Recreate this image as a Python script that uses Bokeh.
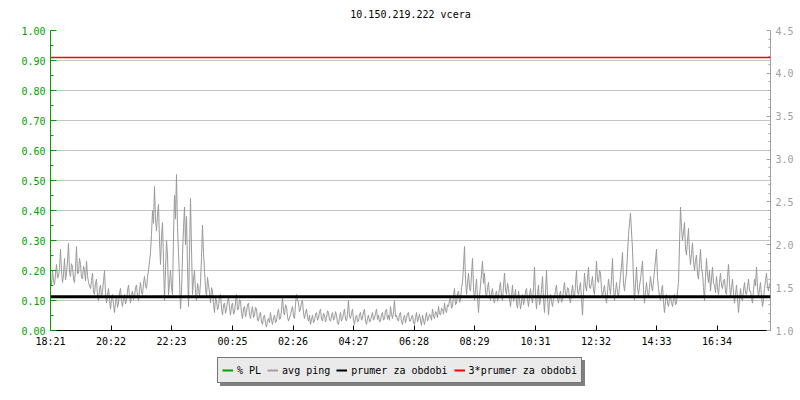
from bokeh.plotting import figure
from bokeh.models import (Range1d, LinearAxis, FixedTicker, Span, Legend, LegendItem, Grid)
from bokeh.layouts import column
from bokeh.embed import file_html
from bokeh.resources import INLINE

title_text = "10.150.219.222 vcera"
tick_labels = ["18:21", "20:22", "22:23", "00:25", "02:26", "04:27",
               "06:28", "08:29", "10:31", "12:32", "14:33", "16:34"]
sample_step_min = 2
period_min = 1440

# avg ping [ms], one value every 2 minutes starting 18:21
avg_ping = [
    1.60, 1.52, 1.70, 1.58, 1.53, 1.66, 1.77, 1.61, 1.63, 1.72, 1.95, 1.70, 1.56, 1.65, 1.84, 1.59, 1.67, 1.80, 2.02, 1.68,
    1.63, 1.78, 1.74, 1.60, 1.56, 1.72, 1.98, 1.66, 1.67, 1.84, 1.77, 1.62, 1.60, 1.75, 1.70, 1.58, 1.81, 1.64, 1.56, 1.52,
    1.49, 1.58, 1.67, 1.45, 1.42, 1.55, 1.60, 1.40, 1.35, 1.48, 1.53, 1.38, 1.46, 1.57, 1.70, 1.44, 1.32, 1.41, 1.49, 1.36,
    1.25, 1.36, 1.42, 1.30, 1.21, 1.33, 1.39, 1.27, 1.32, 1.44, 1.49, 1.34, 1.28, 1.37, 1.42, 1.31, 1.35, 1.46, 1.53, 1.40,
    1.32, 1.41, 1.46, 1.36, 1.39, 1.50, 1.53, 1.40, 1.35, 1.47, 1.56, 1.44, 1.42, 1.55, 1.63, 1.52, 1.49, 1.62, 1.70, 1.80,
    1.91, 2.12, 2.40, 2.25, 2.68, 2.30, 2.16, 2.35, 2.47, 2.05, 1.77, 2.10, 2.26, 1.80, 1.35, 1.70, 2.05, 1.88, 1.42, 1.55,
    1.70, 1.50, 1.42, 2.10, 2.58, 2.30, 2.82, 2.20, 1.91, 1.60, 1.25, 1.45, 1.88, 2.20, 2.44, 2.00, 2.33, 1.75, 1.28, 1.90,
    2.54, 1.95, 1.42, 1.60, 1.70, 1.45, 1.35, 1.55, 1.49, 1.40, 1.56, 1.85, 2.23, 1.90, 1.70, 1.50, 1.39, 1.62, 1.53, 1.44,
    1.32, 1.50, 1.46, 1.30, 1.21, 1.38, 1.35, 1.24, 1.28, 1.40, 1.42, 1.26, 1.18, 1.30, 1.32, 1.20, 1.25, 1.34, 1.39, 1.27,
    1.18, 1.29, 1.32, 1.19, 1.21, 1.33, 1.42, 1.24, 1.25, 1.36, 1.35, 1.20, 1.14, 1.26, 1.28, 1.16, 1.21, 1.30, 1.32, 1.19,
    1.14, 1.23, 1.28, 1.15, 1.18, 1.27, 1.25, 1.12, 1.11, 1.19, 1.21, 1.10, 1.07, 1.16, 1.18, 1.08, 1.04, 1.12, 1.14, 1.09,
    1.21, 1.12, 1.07, 1.15, 1.18, 1.09, 1.11, 1.20, 1.25, 1.13, 1.14, 1.24, 1.39, 1.22, 1.18, 1.30, 1.28, 1.16, 1.11, 1.15,
    1.18, 1.24, 1.28, 1.17, 1.14, 1.30, 1.42, 1.36, 1.32, 1.22, 1.25, 1.33, 1.35, 1.20, 1.14, 1.21, 1.25, 1.15, 1.11, 1.18,
    1.07, 1.13, 1.18, 1.09, 1.11, 1.19, 1.21, 1.12, 1.14, 1.22, 1.25, 1.13, 1.11, 1.20, 1.18, 1.10, 1.14, 1.23, 1.21, 1.12,
    1.11, 1.17, 1.21, 1.12, 1.14, 1.22, 1.18, 1.09, 1.07, 1.15, 1.21, 1.11, 1.14, 1.20, 1.25, 1.13, 1.11, 1.19, 1.35, 1.16,
    1.14, 1.20, 1.25, 1.12, 1.07, 1.15, 1.18, 1.10, 1.11, 1.19, 1.21, 1.12, 1.14, 1.22, 1.25, 1.11, 1.07, 1.14, 1.18, 1.10,
    1.11, 1.17, 1.21, 1.12, 1.14, 1.20, 1.25, 1.13, 1.18, 1.10, 1.11, 1.19, 1.21, 1.12, 1.14, 1.23, 1.25, 1.13, 1.18, 1.12,
    1.28, 1.19, 1.14, 1.22, 1.35, 1.16, 1.18, 1.12, 1.11, 1.19, 1.21, 1.10, 1.07, 1.14, 1.18, 1.09, 1.14, 1.20, 1.21, 1.11,
    1.11, 1.16, 1.18, 1.09, 1.07, 1.15, 1.21, 1.10, 1.14, 1.19, 1.11, 1.06, 1.18, 1.12, 1.07, 1.15, 1.21, 1.11, 1.14, 1.19,
    1.18, 1.12, 1.25, 1.17, 1.14, 1.22, 1.21, 1.15, 1.28, 1.20, 1.18, 1.26, 1.25, 1.19, 1.32, 1.24, 1.21, 1.30, 1.28, 1.35,
    1.39, 1.26, 1.28, 1.40, 1.49, 1.30, 1.32, 1.43, 1.46, 1.33, 1.35, 1.50, 1.56, 1.75, 1.98, 1.60, 1.42, 1.55, 1.67, 1.50,
    1.46, 1.65, 1.84, 1.50, 1.35, 1.48, 1.60, 1.38, 1.21, 1.40, 1.53, 1.66, 1.81, 1.55, 1.67, 1.45, 1.39, 1.50, 1.56, 1.42,
    1.35, 1.44, 1.49, 1.36, 1.32, 1.42, 1.46, 1.34, 1.39, 1.50, 1.56, 1.40, 1.35, 1.52, 1.67, 1.47, 1.42, 1.55, 1.49, 1.38,
    1.28, 1.40, 1.53, 1.34, 1.39, 1.48, 1.32, 1.26, 1.46, 1.36, 1.25, 1.33, 1.42, 1.30, 1.35, 1.45, 1.49, 1.37, 1.28, 1.40,
    1.49, 1.38, 1.32, 1.50, 1.74, 1.40, 1.25, 1.42, 1.53, 1.30, 1.35, 1.48, 1.63, 1.36, 1.21, 1.45, 1.70, 1.40, 1.18, 1.33,
    1.42, 1.34, 1.28, 1.37, 1.39, 1.47, 1.53, 1.36, 1.32, 1.41, 1.46, 1.33, 1.35, 1.48, 1.56, 1.42, 1.39, 1.50, 1.49, 1.37,
    1.32, 1.44, 1.53, 1.38, 1.39, 1.55, 1.70, 1.45, 1.42, 1.50, 1.56, 1.36, 1.18, 1.44, 1.67, 1.52, 1.46, 1.60, 1.74, 1.50,
    1.49, 1.56, 1.63, 1.47, 1.42, 1.60, 1.81, 1.58, 1.56, 1.70, 1.67, 1.48, 1.39, 1.46, 1.53, 1.40, 1.32, 1.45, 1.60, 1.50,
    1.42, 1.60, 1.84, 1.50, 1.35, 1.46, 1.56, 1.44, 1.39, 1.52, 1.63, 1.75, 1.91, 1.55, 1.46, 1.58, 1.67, 1.90, 2.12, 2.25,
    2.37, 2.15, 1.95, 1.60, 1.35, 1.55, 1.74, 1.50, 1.42, 1.52, 1.60, 1.70, 1.81, 1.48, 1.32, 1.45, 1.56, 1.44, 1.39, 1.50,
    1.63, 1.52, 1.46, 1.58, 1.70, 1.82, 1.95, 1.62, 1.49, 1.40, 1.35, 1.46, 1.53, 1.33, 1.21, 1.35, 1.42, 1.32, 1.28, 1.36,
    1.39, 1.33, 1.28, 1.36, 1.42, 1.30, 1.32, 1.45, 1.56, 2.00, 2.44, 2.20, 2.05, 2.15, 2.26, 1.95, 1.88, 2.05, 2.19, 1.90,
    1.77, 1.90, 2.02, 1.80, 1.70, 1.82, 1.88, 1.66, 1.60, 1.78, 1.95, 1.72, 1.67, 1.50, 1.35, 1.62, 1.84, 1.66, 1.56, 1.70,
    1.46, 1.60, 1.74, 1.55, 1.53, 1.44, 1.63, 1.50, 1.42, 1.56, 1.67, 1.52, 1.49, 1.58, 1.60, 1.45, 1.42, 1.62, 1.77, 1.55,
    1.39, 1.50, 1.60, 1.44, 1.32, 1.42, 1.53, 1.38, 1.21, 1.35, 1.49, 1.37, 1.35, 1.47, 1.56, 1.43, 1.42, 1.51, 1.60, 1.46,
    1.46, 1.38, 1.32, 1.47, 1.60, 1.52, 1.74, 1.50, 1.39, 1.48, 1.56, 1.40, 1.28, 1.36, 1.49, 1.58, 1.67, 1.52, 1.46, 1.55,
]
packet_loss = [float("nan")]   # % PL - no data in the period
prumer = 1.395                 # prumer za obdobi [ms]
prumer3 = 4.185                # 3*prumer za obdobi [ms]

pl_ticks = [0.0, 0.1, 0.2, 0.3, 0.4, 0.5, 0.6, 0.7, 0.8, 0.9, 1.0]
pl_minor = [0.05, 0.15, 0.25, 0.35, 0.45, 0.55, 0.65, 0.75, 0.85, 0.95]
ping_ticks = [1.0, 1.5, 2.0, 2.5, 3.0, 3.5, 4.0, 4.5]
ping_minor = [1.1, 1.2, 1.3, 1.4, 1.6, 1.7, 1.8, 1.9, 2.1, 2.2, 2.3, 2.4,
              2.6, 2.7, 2.8, 2.9, 3.1, 3.2, 3.3, 3.4, 3.6, 3.7, 3.8, 3.9,
              4.1, 4.2, 4.3, 4.4]
legend_labels = ["% PL", "avg ping", "prumer za obdobi", "3*prumer za obdobi"]

FONT = "DejaVu Sans Mono"
GREEN = "#00a000"
GRAY = "#a0a0a0"
PINGC = "#999999"
RED = "#ff0000"

def to_min(lbl):
    h, m = lbl.split(":")
    return int(h) * 60 + int(m)

start = to_min(tick_labels[0])
tick_pos = [(to_min(l) - start) % period_min for l in tick_labels]
minutes = [i * sample_step_min for i in range(len(avg_ping))]

p = figure(frame_width=720, frame_height=300, output_backend="svg",
           toolbar_location=None, x_range=Range1d(0, period_min),
           y_range=Range1d(0, 1), min_border_left=50, min_border_top=30,
           min_border_bottom=23, min_border_right=30,
           x_axis_type=None, y_axis_type=None)
p.outline_line_color = None
p.background_fill_color = "white"
p.border_fill_color = "white"
p.extra_y_ranges = {"ping": Range1d(1.0, 4.5)}

p.title.text = title_text
p.title.align = "center"
p.title.vertical_align = "top"
p.title.text_font = FONT
p.title.text_font_size = "10px"
p.title.text_font_style = "normal"
p.title.text_color = "black"
p.title.standoff = 17

xaxis = LinearAxis(ticker=FixedTicker(ticks=tick_pos))
xaxis.major_label_overrides = {tp: lbl for tp, lbl in zip(tick_pos, tick_labels)}
xaxis.axis_line_color = "black"
xaxis.major_tick_line_color = "black"
xaxis.major_tick_in = 5
xaxis.major_tick_out = 0
xaxis.minor_tick_line_color = None
xaxis.major_label_text_font = FONT
xaxis.major_label_text_font_size = "10px"
xaxis.major_label_text_color = "black"
xaxis.major_label_standoff = 5
p.add_layout(xaxis, "below")

yaxis = LinearAxis(ticker=FixedTicker(ticks=pl_ticks, minor_ticks=pl_minor))
yaxis.major_label_overrides = {t: "%.2f" % t for t in pl_ticks}
yaxis.axis_line_color = GREEN
yaxis.major_tick_line_color = GREEN
yaxis.minor_tick_line_color = GREEN
yaxis.major_tick_in = 6
yaxis.major_tick_out = 0
yaxis.minor_tick_in = 3
yaxis.minor_tick_out = 0
yaxis.major_label_text_font = FONT
yaxis.major_label_text_font_size = "10px"
yaxis.major_label_text_color = GREEN
yaxis.major_label_standoff = 5
p.add_layout(yaxis, "left")

raxis = LinearAxis(y_range_name="ping",
                   ticker=FixedTicker(ticks=ping_ticks, minor_ticks=ping_minor))
raxis.major_label_overrides = {t: "%.1f" % t for t in ping_ticks}
raxis.axis_line_color = GRAY
raxis.major_tick_line_color = GRAY
raxis.minor_tick_line_color = GRAY
raxis.major_tick_in = 4
raxis.major_tick_out = 0
raxis.minor_tick_in = 2
raxis.minor_tick_out = 0
raxis.major_label_text_font = FONT
raxis.major_label_text_font_size = "10px"
raxis.major_label_text_color = GRAY
raxis.major_label_standoff = 5
p.add_layout(raxis, "right")

grid = Grid(dimension=1, ticker=FixedTicker(ticks=pl_ticks),
            grid_line_color="#c4c4c4", grid_line_width=1)
p.add_layout(grid, "center")

p.line(minutes, avg_ping, y_range_name="ping", line_color=PINGC, line_width=1)
p.add_layout(Span(location=prumer, dimension="width", y_range_name="ping",
                  line_color="black", line_width=3))
p.add_layout(Span(location=prumer3, dimension="width", y_range_name="ping",
                  line_color=RED, line_width=1.5))

# legend strip below the chart (frame aligned with the chart's frame)
p2 = figure(width=800, height=40, output_backend="svg", toolbar_location=None,
            min_border=0, x_axis_type=None, y_axis_type=None,
            x_range=Range1d(0, 1), y_range=Range1d(0, 1))
p2.outline_line_color = None
p2.background_fill_color = "white"
p2.border_fill_color = "white"
p2.xgrid.visible = False
p2.ygrid.visible = False

pl_x = [0] * len(packet_loss)
r_pl = p2.line(x=pl_x, y=packet_loss, line_color=GREEN, line_width=2)
r_gray = p2.line(x=pl_x, y=packet_loss, line_color=GRAY, line_width=2)
r_blk = p2.line(x=pl_x, y=packet_loss, line_color="black", line_width=2)
r_red = p2.line(x=pl_x, y=packet_loss, line_color=RED, line_width=2)
r_none = p2.line(x=pl_x, y=packet_loss, line_alpha=0)

def make_legend(labels, renderers, loc, bg, border, txt):
    return Legend(items=[LegendItem(label=l, renderers=[r])
                         for l, r in zip(labels, renderers)],
                  orientation="horizontal", location=loc, margin=0, padding=4,
                  spacing=6, label_standoff=4, glyph_width=11, glyph_height=16,
                  label_height=16, label_text_font=FONT, label_text_font_size="10px",
                  label_text_color=txt, background_fill_color=bg,
                  background_fill_alpha=1.0, border_line_color=border,
                  border_line_width=1)

# drop shadow: same-size box, blank labels (monospace -> same widths)
shadow_labels = ["\u00a0" * len(l) for l in legend_labels]
p2.add_layout(make_legend(shadow_labels, [r_none] * 4, (170, 7), "#808080", "#808080", "#808080"), "center")
p2.add_layout(make_legend(legend_labels, [r_pl, r_gray, r_blk, r_red], (167, 10), "#eaeaea", "black", "black"), "center")

open("out.html", "w").write(file_html(column(p, p2, spacing=0), INLINE))
